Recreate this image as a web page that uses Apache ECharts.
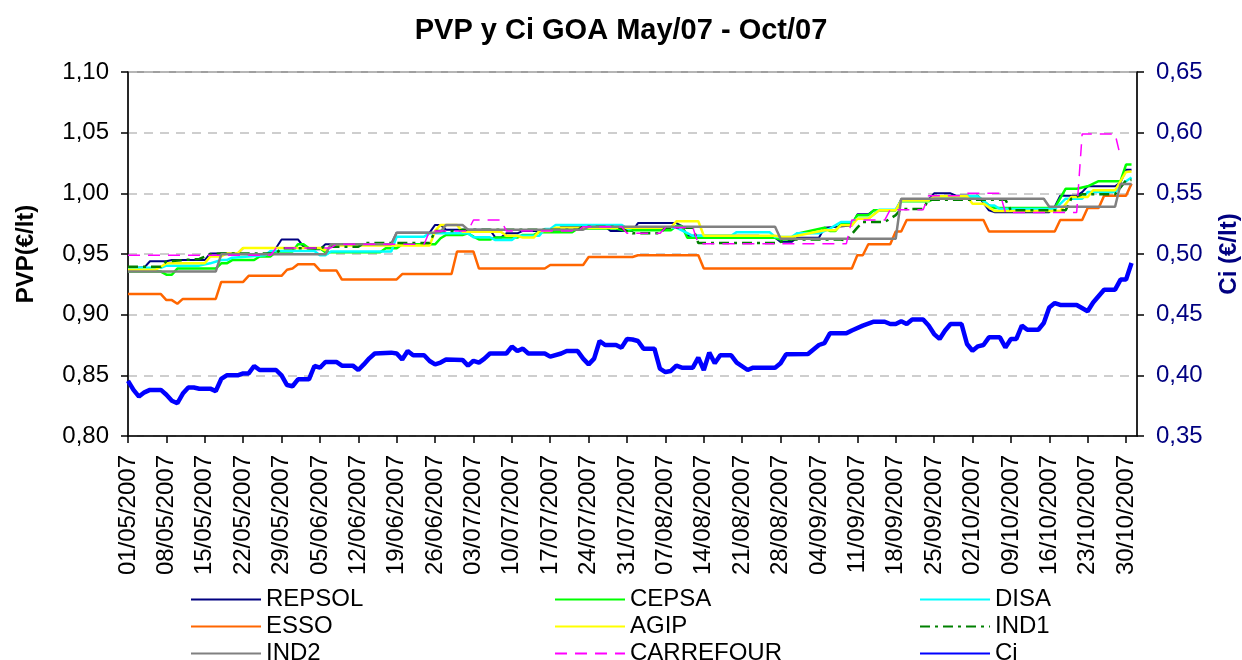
<!DOCTYPE html>
<html><head><meta charset="utf-8">
<script src="https://cdn.jsdelivr.net/npm/echarts@6/dist/echarts.min.js"></script>
<style>html,body{margin:0;padding:0;background:#fff;overflow:hidden}#c{width:1242px;height:660px}</style>
</head><body><div id="c"></div>
<script>
// x = day index counted from 01/05/2007 (0) to 01/11/2007 (184)
const tickLabels = ['01/05/2007','08/05/2007','15/05/2007','22/05/2007','29/05/2007','05/06/2007','12/06/2007','19/06/2007','26/06/2007','03/07/2007','10/07/2007','17/07/2007','24/07/2007','31/07/2007','07/08/2007','14/08/2007','21/08/2007','28/08/2007','04/09/2007','11/09/2007','18/09/2007','25/09/2007','02/10/2007','09/10/2007','16/10/2007','23/10/2007','30/10/2007'];
const leftTicks = [0.80,0.85,0.90,0.95,1.00,1.05,1.10];
const rightTicks = [0.35,0.40,0.45,0.50,0.55,0.60,0.65];

const REPSOL = [[0,0.938],[3,0.939],[4,0.944],[7,0.944],[8,0.945],[14,0.945],[15,0.9505],[20,0.9505],[21,0.955],[27,0.955],[28,0.962],[31,0.962],[32,0.956],[34,0.954],[35,0.954],[36,0.958],[48,0.958],[49,0.9676],[55,0.9676],[56,0.974],[57,0.974],[58,0.970],[66,0.970],[67,0.9635],[68,0.9635],[69,0.967],[71,0.967],[72,0.969],[78,0.969],[79,0.9725],[87,0.9725],[88,0.969],[92,0.969],[93,0.9755],[100,0.9755],[101,0.973],[102,0.965],[115,0.965],[116,0.9634],[118,0.9634],[119,0.960],[121,0.960],[122,0.9634],[126,0.9634],[127,0.9717],[132,0.9735],[133,0.9827],[135,0.9827],[136,0.986],[140,0.986],[141,0.995],[146,0.995],[147,1.0],[150,1.0],[151,0.998],[155,0.998],[157,0.986],[158,0.9845],[168,0.9845],[169,0.989],[170,0.998],[173,0.998],[174,1.001],[175,1.0058],[180,1.0058],[181,1.009],[182,1.0195],[183,1.0195]];
const CEPSA = [[0,0.9355],[6,0.9355],[7,0.933],[8,0.933],[9,0.938],[16,0.938],[17,0.9423],[18,0.9423],[19,0.945],[23,0.945],[24,0.948],[26,0.948],[27,0.952],[30,0.952],[31,0.958],[32,0.958],[33,0.9547],[35,0.9547],[36,0.9514],[46,0.9514],[47,0.9547],[49,0.9547],[50,0.958],[56,0.958],[57,0.963],[58,0.9657],[61,0.9657],[62,0.967],[63,0.9643],[64,0.962],[66,0.962],[67,0.9635],[71,0.9635],[72,0.9657],[74,0.9657],[75,0.968],[81,0.968],[82,0.971],[89,0.971],[91,0.969],[92,0.9695],[99,0.9695],[100,0.973],[101,0.973],[102,0.9634],[118,0.9634],[119,0.962],[121,0.962],[122,0.9667],[127,0.9717],[128,0.969],[129,0.969],[130,0.975],[132,0.975],[133,0.982],[135,0.982],[136,0.986],[140,0.986],[141,0.9934],[146,0.9934],[147,0.9956],[150,0.9956],[151,0.9975],[155,0.9975],[157,0.990],[158,0.988],[169,0.988],[171,1.0038],[173,1.0038],[175,1.0058],[177,1.01],[181,1.01],[182,1.0237],[183,1.0237]];
const DISA = [[0,0.9387],[6,0.9387],[7,0.9404],[13,0.9404],[15,0.9423],[17,0.945],[18,0.945],[19,0.947],[25,0.949],[26,0.9525],[34,0.9525],[35,0.949],[36,0.949],[37,0.952],[48,0.952],[49,0.9643],[54,0.9643],[55,0.967],[62,0.967],[63,0.9638],[66,0.9638],[67,0.9615],[70,0.9615],[71,0.965],[75,0.965],[76,0.9706],[77,0.9706],[78,0.974],[90,0.974],[91,0.971],[92,0.9717],[100,0.9717],[103,0.965],[110,0.965],[111,0.968],[117,0.968],[118,0.964],[121,0.964],[122,0.967],[126,0.967],[128,0.971],[130,0.9764],[132,0.9764],[133,0.979],[135,0.979],[137,0.9865],[140,0.9865],[141,0.994],[146,0.994],[147,0.9975],[155,0.9975],[157,0.990],[158,0.990],[159,0.987],[169,0.987],[171,0.9956],[174,0.9956],[175,1.0011],[180,1.0011],[182,1.01],[183,1.013]];
const ESSO = [[0,0.917],[6,0.917],[7,0.912],[8,0.912],[9,0.909],[10,0.913],[16,0.913],[17,0.927],[21,0.927],[22,0.932],[28,0.932],[29,0.937],[30,0.938],[31,0.9415],[34,0.9415],[35,0.9365],[38,0.9365],[39,0.929],[49,0.929],[50,0.9335],[59,0.9335],[60,0.952],[63,0.952],[64,0.938],[76,0.938],[77,0.941],[83,0.941],[84,0.9475],[92,0.9475],[93,0.949],[104,0.949],[105,0.938],[132,0.938],[133,0.949],[134,0.949],[135,0.958],[139,0.958],[140,0.9686],[141,0.9686],[142,0.978],[156,0.978],[157,0.9686],[169,0.9686],[170,0.978],[174,0.978],[175,0.988],[177,0.988],[178,0.998],[182,0.998],[183,1.008]];
const AGIP = [[0,0.937],[5,0.937],[6,0.9395],[7,0.9423],[14,0.9423],[15,0.948],[17,0.948],[18,0.9505],[20,0.9505],[21,0.955],[35,0.955],[36,0.953],[37,0.957],[55,0.957],[56,0.969],[57,0.974],[60,0.974],[61,0.9684],[68,0.9684],[69,0.965],[71,0.965],[72,0.9635],[74,0.9635],[75,0.969],[77,0.969],[78,0.9717],[99,0.9717],[100,0.977],[104,0.977],[105,0.965],[118,0.965],[119,0.964],[121,0.964],[122,0.965],[127,0.9695],[129,0.9695],[130,0.9736],[132,0.9736],[133,0.979],[135,0.979],[137,0.986],[140,0.986],[141,0.994],[146,0.994],[147,0.9975],[153,0.9975],[154,0.9915],[156,0.9915],[158,0.9854],[170,0.9854],[172,0.997],[175,0.997],[176,1.0025],[180,1.0025],[182,1.0176],[183,1.018]];
const IND1 = [[0,0.9395],[6,0.9395],[7,0.944],[13,0.9459],[15,0.9497],[17,0.9505],[27,0.9505],[28,0.9547],[35,0.9547],[36,0.956],[42,0.956],[43,0.959],[55,0.959],[56,0.969],[60,0.969],[61,0.970],[82,0.970],[83,0.9725],[89,0.9725],[90,0.971],[92,0.967],[97,0.967],[98,0.9717],[103,0.9717],[104,0.959],[118,0.959],[120,0.9612],[121,0.962],[130,0.962],[131,0.961],[132,0.9664],[133,0.9717],[134,0.9764],[138,0.9764],[140,0.982],[141,0.987],[145,0.987],[146,0.9948],[160,0.9948],[161,0.986],[171,0.986],[172,0.9955],[174,0.9992],[180,0.9992],[182,1.0107],[183,1.011]];
const IND2 = [[0,0.9355],[16,0.9355],[17,0.9497],[36,0.9497],[37,0.958],[48,0.958],[49,0.9676],[56,0.9676],[57,0.9684],[58,0.974],[61,0.974],[62,0.970],[83,0.970],[84,0.9725],[118,0.9725],[119,0.9626],[140,0.9626],[141,0.9956],[167,0.9956],[168,0.989],[180,0.989],[181,1.0077],[183,1.0077]];
const CARREFOUR = [[0,0.949],[26,0.949],[27,0.955],[37,0.955],[38,0.958],[54,0.958],[55,0.969],[62,0.969],[63,0.978],[68,0.978],[69,0.969],[82,0.969],[83,0.9725],[90,0.9725],[91,0.967],[97,0.967],[98,0.9717],[103,0.9717],[104,0.9585],[131,0.9585],[132,0.978],[138,0.978],[139,0.9865],[145,0.9865],[146,0.998],[152,0.998],[153,1.0],[159,1.0],[160,0.9843],[173,0.9843],[174,1.049],[180,1.049],[181,1.03]];
const Ci = [[0,0.3955],[1,0.388],[2,0.3825],[3,0.386],[4,0.388],[6,0.388],[7,0.384],[8,0.379],[9,0.377],[10,0.385],[11,0.390],[12,0.390],[13,0.389],[15,0.389],[16,0.387],[17,0.397],[18,0.400],[20,0.400],[21,0.4016],[22,0.4016],[23,0.4077],[24,0.4044],[27,0.4044],[28,0.400],[29,0.392],[30,0.391],[31,0.3967],[33,0.3967],[34,0.4077],[35,0.4063],[36,0.411],[38,0.411],[39,0.408],[41,0.408],[42,0.4044],[43,0.409],[44,0.414],[45,0.418],[48,0.4187],[49,0.418],[50,0.413],[51,0.420],[52,0.4165],[54,0.4165],[55,0.4118],[56,0.409],[57,0.4105],[58,0.413],[61,0.4127],[62,0.408],[63,0.412],[64,0.4105],[65,0.4138],[66,0.418],[69,0.418],[70,0.4237],[71,0.420],[72,0.422],[73,0.418],[76,0.418],[77,0.4154],[79,0.418],[80,0.420],[82,0.420],[83,0.4138],[84,0.409],[85,0.4138],[86,0.4283],[87,0.425],[89,0.425],[90,0.4228],[91,0.430],[92,0.4295],[93,0.4283],[94,0.422],[96,0.422],[97,0.4055],[98,0.4027],[99,0.4036],[100,0.408],[101,0.4063],[103,0.4063],[104,0.4146],[105,0.4044],[106,0.4187],[107,0.410],[108,0.4165],[110,0.4165],[111,0.4105],[113,0.4044],[114,0.4063],[118,0.4063],[119,0.410],[120,0.4173],[124,0.4176],[126,0.425],[127,0.4266],[128,0.4346],[131,0.4346],[132,0.437],[134,0.441],[136,0.4442],[138,0.4442],[139,0.4423],[140,0.4423],[141,0.4445],[142,0.4423],[143,0.446],[145,0.446],[146,0.441],[147,0.434],[148,0.430],[149,0.437],[150,0.4423],[152,0.4423],[153,0.4258],[154,0.4203],[155,0.4239],[156,0.425],[157,0.4313],[159,0.4313],[160,0.423],[161,0.430],[162,0.430],[163,0.441],[164,0.4376],[166,0.4376],[167,0.4431],[168,0.456],[169,0.4596],[170,0.458],[173,0.458],[175,0.4528],[176,0.460],[178,0.4706],[180,0.4706],[181,0.4789],[182,0.4789],[183,0.4926]];

const FONT = "'Liberation Sans', Arial, sans-serif";
function line(name, data, color, width, type, yIdx) {
  return { name, type: 'line', data, yAxisIndex: yIdx || 0, symbol: 'none', showSymbol: false,
    lineStyle: { color, width, type: type || 'solid' }, itemStyle: { color }, z: 2 };
}
const series = [
  line('REPSOL', REPSOL, '#000080', 2),
  line('CEPSA', CEPSA, '#00FF00', 2.5),
  line('DISA', DISA, '#00FFFF', 2.5),
  line('ESSO', ESSO, '#FF6600', 2.5),
  line('AGIP', AGIP, '#FFFF00', 2.5),
  line('IND1', IND1, '#008000', 2.5, [10, 5, 3, 5]),
  line('IND2', IND2, '#808080', 2.5),
  line('CARREFOUR', CARREFOUR, '#FF00FF', 1.5, [12, 8]),
  line('Ci', Ci, '#0000FF', 4.5, 'solid', 1)
];
function legendCol(left, names) {
  return { orient: 'vertical', left, top: 586, height: 90, padding: 0, itemWidth: 70, itemHeight: 14, itemGap: 0,
    data: names, selectedMode: false, itemStyle: { opacity: 0, borderWidth: 0 },
    textStyle: { fontFamily: FONT, fontSize: 24, color: '#000', lineHeight: 27 } };
}
const fmt = v => v.toFixed(2).replace('.', ',');
const chart = echarts.init(document.getElementById('c'), null, { renderer: 'canvas' });
chart.setOption({
  animation: false,
  backgroundColor: '#fff',
  title: { text: 'PVP y Ci GOA May/07 - Oct/07', left: 'center', top: 16, padding: [0, 0, 0, 8],
    textStyle: { fontFamily: FONT, fontSize: 29, fontWeight: 'bold', color: '#000' } },
  legend: [
    legendCol(190, ['REPSOL', 'ESSO', 'IND2']),
    legendCol(554, ['CEPSA', 'AGIP', 'CARREFOUR']),
    legendCol(919, ['DISA', 'IND1', 'Ci'])
  ],
  grid: { left: 128, right: 105, top: 72, bottom: 224, outerBoundsMode: 'none', containLabel: false,
    show: true, borderColor: '#808080', borderWidth: 1.5 },
  xAxis: {
    type: 'value', min: 0, max: 184, interval: 7,
    axisLine: { lineStyle: { color: '#000', width: 1.5 } },
    axisTick: { show: true, length: 7, lineStyle: { color: '#000', width: 1.5 } },
    splitLine: { show: false },
    axisLabel: { rotate: 90, margin: 19, fontFamily: FONT, fontSize: 24, color: '#000', showMaxLabel: false,
      formatter: v => { const i = Math.round(v / 7); return (Math.abs(v - i * 7) < 1e-6 && tickLabels[i]) ? tickLabels[i] : ''; } }
  },
  yAxis: [
    { type: 'value', position: 'left', min: leftTicks[0], max: leftTicks[leftTicks.length - 1], interval: 0.05,
      name: 'PVP(€/lt)', nameLocation: 'middle', nameGap: 90, nameRotate: 90,
      nameTextStyle: { fontFamily: FONT, fontSize: 24, fontWeight: 'bold', color: '#000' },
      axisLine: { show: true, lineStyle: { color: '#000', width: 1.5 } },
      axisTick: { show: true, length: 7, lineStyle: { color: '#000', width: 1.5 } },
      axisLabel: { margin: 19, fontFamily: FONT, fontSize: 24, color: '#000', formatter: fmt },
      splitLine: { show: true, lineStyle: { color: '#BFBFBF', width: 1.5, type: [9, 7] } } },
    { type: 'value', position: 'right', min: rightTicks[0], max: rightTicks[rightTicks.length - 1], interval: 0.05,
      name: 'Ci (€/lt)', nameLocation: 'middle', nameGap: 80, nameRotate: 90,
      nameTextStyle: { fontFamily: FONT, fontSize: 24, fontWeight: 'bold', color: '#000080' },
      axisLine: { show: true, lineStyle: { color: '#000', width: 1.5 } },
      axisTick: { show: true, length: 7, lineStyle: { color: '#000', width: 1.5 } },
      axisLabel: { margin: 19, fontFamily: FONT, fontSize: 24, color: '#000080', formatter: fmt },
      splitLine: { show: false } }
  ],
  series
});
</script>
</body></html>
